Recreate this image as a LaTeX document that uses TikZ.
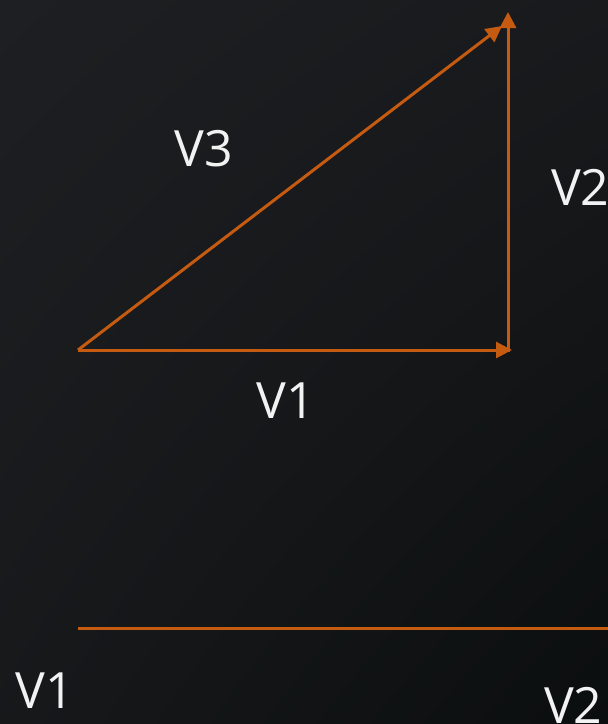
\documentclass[tikz,border=0pt]{standalone}
\usepackage{fontspec}
\setmainfont{Open Sans}
\usetikzlibrary{arrows.meta,shadings}
\definecolor{bgA}{HTML}{1E1F22}
\definecolor{bgB}{HTML}{0B0E0F}
\definecolor{vec}{HTML}{C55A11}
\definecolor{txt}{HTML}{F2F2F2}
\tikzset{
  vecline/.style={draw=vec, line width=3pt},
  vecarrow/.style={vecline, -{Triangle[length=16pt,width=16pt]}},
  lbl/.style={text=txt, font=\fontsize{50}{50}\selectfont, inner sep=0pt, anchor=center}
}
\begin{document}
\begin{tikzpicture}[x=1pt,y=-1pt]
  \useasboundingbox (0,0) rectangle (608,724);
  \shade[upper left=bgA, upper right=bgA!70!bgB, lower left=bgA!60!bgB, lower right=bgB] (0,0) rectangle (608,724);
  % points
  \coordinate (O) at (78,350);
  \coordinate (A) at (512,350);
  \coordinate (Bbase) at (508,351.5);
  \coordinate (B) at (508,12);
  \coordinate (C) at (502,26);
  \coordinate (L1) at (78,628);
  \coordinate (L2) at (610,628);
  % vectors
  \draw[vecarrow] (O) -- (A);
  \draw[vecarrow] (Bbase) -- (B);
  \draw[vecarrow] (O) -- (C);
  \draw[vecline] (L1) -- (L2);
  % labels
  \node[lbl] (v3) at (204,149) {V3};
  \node[lbl, anchor=west] (v2a) at (551,187) {V2};
  \node[lbl] (v1a) at (286,401) {V1};
  \node[lbl] (v1b) at (45,691) {V1};
  \node[lbl, anchor=west] (v2b) at (544,705) {V2};
\end{tikzpicture}
\end{document}
